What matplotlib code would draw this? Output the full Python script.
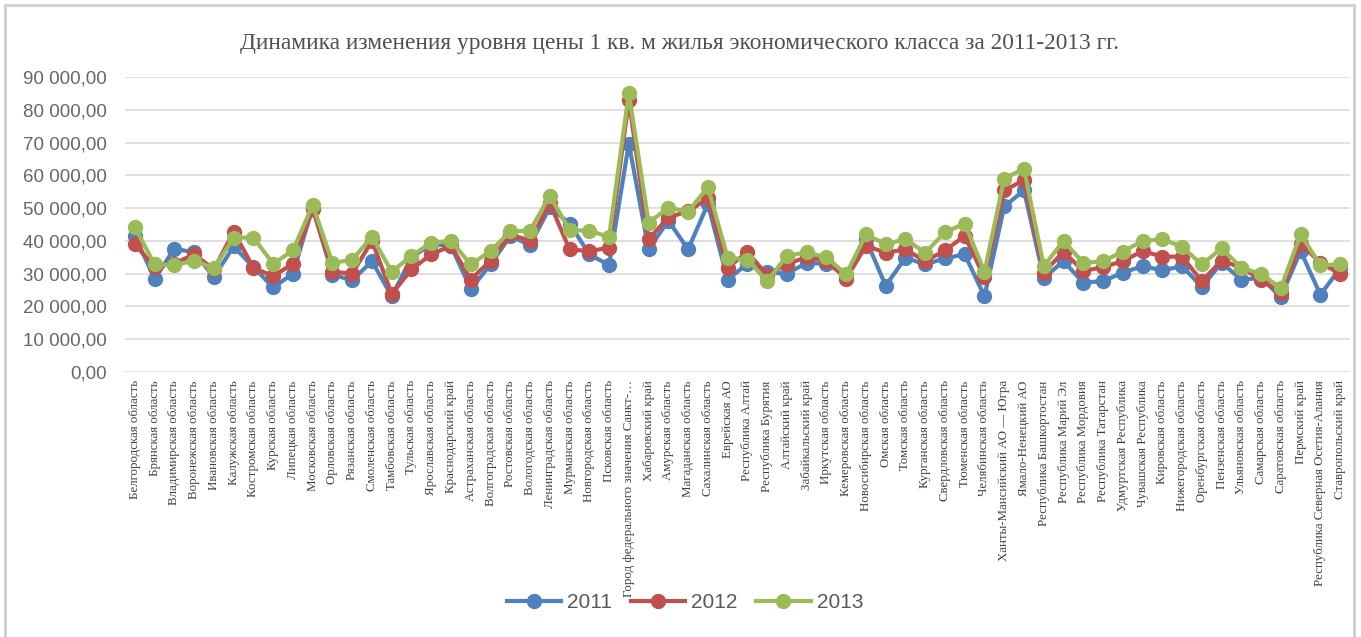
import matplotlib.pyplot as plt
from matplotlib.patches import Rectangle
from matplotlib.ticker import FuncFormatter, MultipleLocator
import numpy as np

regions = [
    "Белгородская область", "Брянская область", "Владимирская область",
    "Воронежская область", "Ивановская область", "Калужская область",
    "Костромская область", "Курская область", "Липецкая область",
    "Московская область", "Орловская область", "Рязанская область",
    "Смоленская область", "Тамбовская область", "Тульская область",
    "Ярославская область", "Краснодарский край", "Астраханская область",
    "Волгоградская область", "Ростовская область", "Вологодская область",
    "Ленинградская область", "Мурманская область", "Новгородская область",
    "Псковская область", "Город федерального значения Санкт-…",
    "Хабаровский край", "Амурская область", "Магаданская область",
    "Сахалинская область", "Еврейская АО", "Республика Алтай",
    "Республика Бурятия", "Алтайский край", "Забайкальский край",
    "Иркутская область", "Кемеровская область", "Новосибирская область",
    "Омская область", "Томская область", "Курганская область",
    "Свердловская область", "Тюменская область", "Челябинская область",
    "Ханты-Мансийский АО — Югра", "Ямало-Ненецкий АО",
    "Республика Башкортостан", "Республика Марий Эл", "Республика Мордовия",
    "Республика Татарстан", "Удмуртская Республика", "Чувашская Республика",
    "Кировская область", "Нижегородская область", "Оренбургская область",
    "Пензенская область", "Ульяновская область", "Самарская область",
    "Саратовская область", "Пермский край",
    "Республика Северная Осетия-Алания", "Ставропольский край",
]

price_2011 = [
    41500, 28500, 37600, 36500, 29000, 38300, 32000, 25800, 30000, 50300,
    29700, 28000, 33800, 23100, 34900, 39000, 38500, 25300, 32800, 41500,
    38700, 50300, 45300, 35900, 32600, 69700, 37400, 46200, 37400, 51300,
    28200, 33000, 30400, 30000, 33300, 33000, 29500, 40500, 26300, 34900,
    32800, 34700, 35900, 23100, 50500, 55400, 28700, 33800, 27300, 27700,
    30300, 32300, 31000, 32300, 26000, 33300, 28200, 28700, 22900, 36900,
    23600, 31600,
]
price_2012 = [
    39000, 32000, 33100, 35900, 31300, 42800, 31800, 29200, 33100, 49700,
    30600, 30000, 40000, 23800, 31300, 35900, 38500, 28200, 34000, 42000,
    40000, 51500, 37400, 36900, 37900, 82900, 40500, 47200, 49000, 53000,
    31800, 36600, 29500, 33000, 35000, 34000, 28500, 38500, 36400, 37400,
    33800, 37100, 41500, 28900, 55400, 58500, 30300, 36700, 30800, 32000,
    33800, 36900, 35200, 35200, 27700, 34000, 31800, 28200, 24100, 39200,
    33300, 30000,
]
price_2013 = [
    44200, 32800, 32600, 34000, 31600, 41000, 41000, 33000, 37100, 51000,
    33300, 34200, 41300, 30600, 35400, 39500, 40000, 32800, 36900, 42900,
    43100, 53800, 43300, 43100, 41200, 85100, 45600, 50100, 48900, 56400,
    34900, 34300, 27700, 35400, 36500, 35000, 29800, 42000, 39000, 40500,
    36400, 42600, 45300, 30600, 59000, 62000, 32300, 40000, 33300, 33800,
    36700, 40000, 40500, 38200, 32800, 37700, 31800, 29900, 25600, 42000,
    32600, 32800,
]

series = [
    ("2011", price_2011, "#4F81BD"),
    ("2012", price_2012, "#C0504D"),
    ("2013", price_2013, "#9BBB59"),
]

fig = plt.figure(figsize=(13.61, 6.37), dpi=100)
fig.patches.append(Rectangle((5 / 1361, -0.02), 1349 / 1361, 1 - 5 / 637 + 0.02,
                             transform=fig.transFigure, fill=False,
                             edgecolor="#D0D0D0", linewidth=2))

ax = fig.add_axes([125 / 1361, 1 - 372 / 637, 1225 / 1361, 295 / 637])
x = np.arange(len(regions))
for name, vals, color in series:
    ax.plot(x, vals, color=color, linewidth=3, marker="o", markersize=10,
            label=name)

ax.set_xlim(-0.5, len(regions) - 0.5)
ax.set_ylim(0, 90000)
ax.yaxis.set_major_locator(MultipleLocator(10000))
ax.yaxis.set_major_formatter(
    FuncFormatter(lambda v, pos: f"{v:,.2f}".replace(",", " ").replace(".", ",")))
ax.grid(axis="y", color="#D9D9D9", linewidth=1.2)
ax.set_axisbelow(True)
for s in ax.spines.values():
    s.set_visible(False)
ax.tick_params(axis="y", length=0, pad=13, labelsize=13.5, labelcolor="#666666")
ax.tick_params(axis="x", length=0, pad=6)
for lab in ax.get_yticklabels():
    lab.set_fontfamily("Liberation Sans")

ax.set_xticks(x)
ax.set_xticklabels(regions, rotation=90, fontsize=9.3, family="Liberation Serif",
                   color="#404040", va="top", ha="center")

fig.text(679 / 1361, 1 - 43 / 637,
         "Динамика изменения уровня цены 1 кв. м жилья экономического класса за 2011-2013 гг.",
         ha="center", va="center", fontsize=16.8, family="Liberation Serif",
         color="#505050")

leg = fig.legend(loc="center", bbox_to_anchor=(685 / 1361, 1 - 603 / 637),
                 ncol=3, frameon=False, handlelength=2.6, handletextpad=0.3,
                 columnspacing=0.9, prop={"family": "Liberation Sans", "size": 15})
for t in leg.get_texts():
    t.set_color("#595959")

fig.savefig("out.png", dpi=100)
